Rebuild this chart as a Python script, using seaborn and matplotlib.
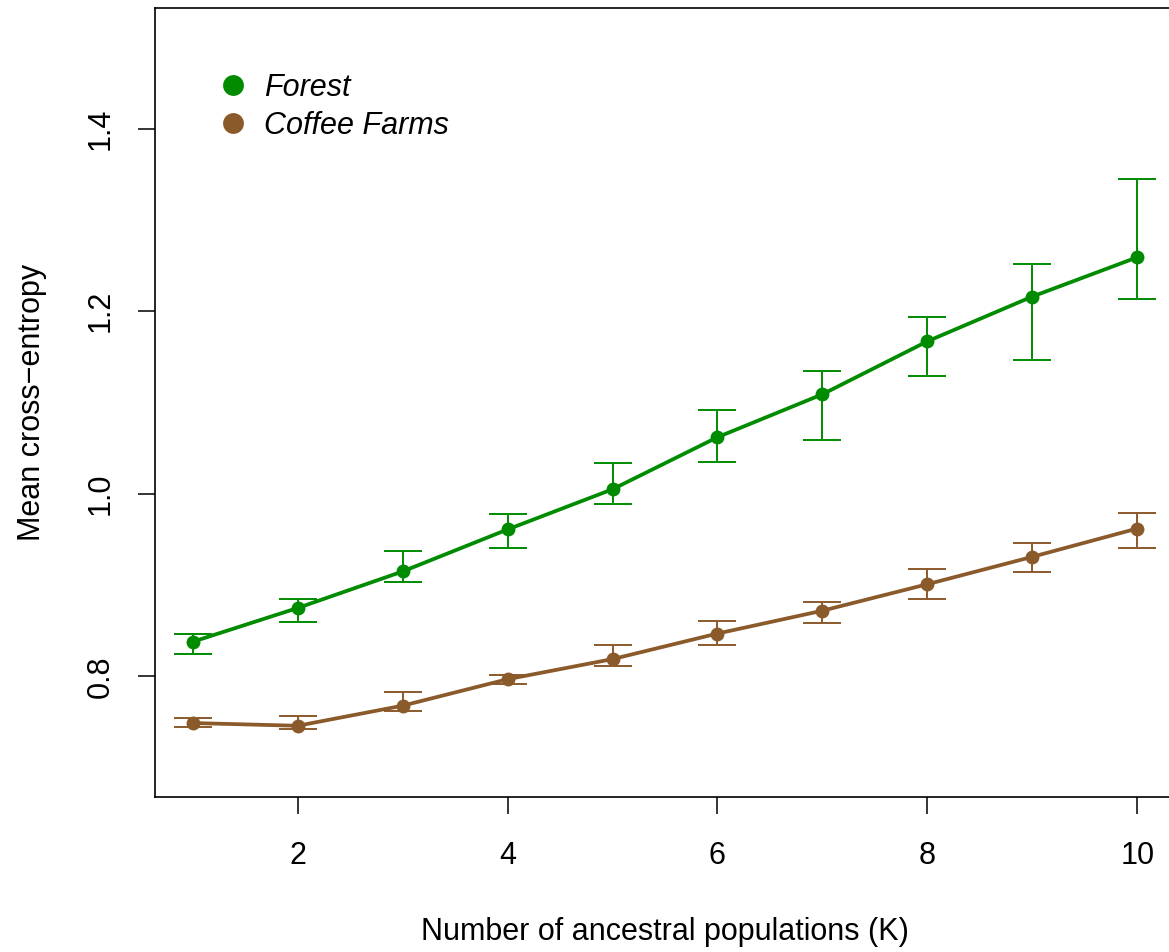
import matplotlib
matplotlib.use("Agg")
import matplotlib.pyplot as plt
from matplotlib.lines import Line2D
import seaborn as sns
import pandas as pd
import numpy as np

# ---- data ----
K = [1, 2, 3, 4, 5, 6, 7, 8, 9, 10]
forest_mean = [0.838, 0.875, 0.915, 0.961, 1.005, 1.062, 1.109, 1.167, 1.216, 1.259]
forest_upper = [0.846, 0.885, 0.937, 0.978, 1.034, 1.092, 1.135, 1.194, 1.252, 1.345]
forest_lower = [0.825, 0.860, 0.903, 0.941, 0.989, 1.035, 1.059, 1.129, 1.147, 1.213]
coffee_mean = [0.749, 0.746, 0.768, 0.797, 0.819, 0.847, 0.872, 0.901, 0.931, 0.962]
coffee_upper = [0.755, 0.757, 0.783, 0.802, 0.834, 0.861, 0.882, 0.918, 0.946, 0.979]
coffee_lower = [0.745, 0.742, 0.762, 0.792, 0.812, 0.834, 0.858, 0.885, 0.914, 0.941]
series_names = ["Forest", "Coffee Farms"]
x_ticks = [2, 4, 6, 8, 10]
y_ticks = [0.8, 1.0, 1.2, 1.4]

GREEN = "#008B00"
BROWN = "#8B5A2B"
colors = [GREEN, BROWN]

sns.set_style("white")
plt.rcParams["font.family"] = ["Liberation Sans", "DejaVu Sans"]
plt.rcParams["text.color"] = "black"
plt.rcParams["axes.labelcolor"] = "black"
plt.rcParams["xtick.color"] = "black"
plt.rcParams["ytick.color"] = "black"

fig = plt.figure(figsize=(11.69, 9.52), dpi=100)
ax = fig.add_axes([155 / 1169, (952 - 797) / 952, (1175 - 155) / 1169, (797 - 8) / 952])

df = pd.DataFrame({
    "K": K * 2,
    "value": forest_mean + coffee_mean,
    "group": [series_names[0]] * len(K) + [series_names[1]] * len(K),
})

means = [forest_mean, coffee_mean]
uppers = [forest_upper, coffee_upper]
lowers = [forest_lower, coffee_lower]
for m, u, l, c in zip(means, uppers, lowers, colors):
    m = np.array(m); u = np.array(u); l = np.array(l)
    ax.errorbar(K, m, yerr=[m - l, u - m], fmt="none", ecolor=c,
                elinewidth=1.4, capsize=13.7, capthick=1.4, zorder=2)

sns.lineplot(data=df, x="K", y="value", hue="group", palette=colors,
             hue_order=series_names, marker="o", markersize=10,
             markeredgewidth=0, linewidth=2.7, ax=ax, legend=False, zorder=3)

ax.set_xlim(0.64, 10.36)
ax.set_ylim(0.668, 1.532)
ax.set_xticks(x_ticks)
ax.set_xticklabels([str(t) for t in x_ticks])
ax.set_yticks(y_ticks)
ax.set_yticklabels([f"{t:.1f}" for t in y_ticks], rotation=90, va="center")
ax.tick_params(axis="both", direction="out", length=12.5, width=1.1,
               labelsize=22, color="black", left=True, bottom=True)
ax.tick_params(axis="x", pad=19)
ax.tick_params(axis="y", pad=16)
for s in ax.spines.values():
    s.set_color("black")
    s.set_linewidth(1.2)

ax.set_xlabel("Number of ancestral populations (K)", fontsize=22, labelpad=33)
ax.set_ylabel("Mean cross\u2212entropy", fontsize=22, labelpad=27.5)

handles = [Line2D([0], [0], marker="o", color="none", markerfacecolor=c,
                  markeredgewidth=0, markersize=15) for c in colors]
leg = ax.legend(handles, series_names, loc="upper left",
                bbox_to_anchor=(0.032, 0.953), frameon=False,
                prop={"size": 22, "style": "italic"},
                handletextpad=0.39, labelspacing=0.26, handlelength=1.2)

fig.savefig("out.png", dpi=100)
